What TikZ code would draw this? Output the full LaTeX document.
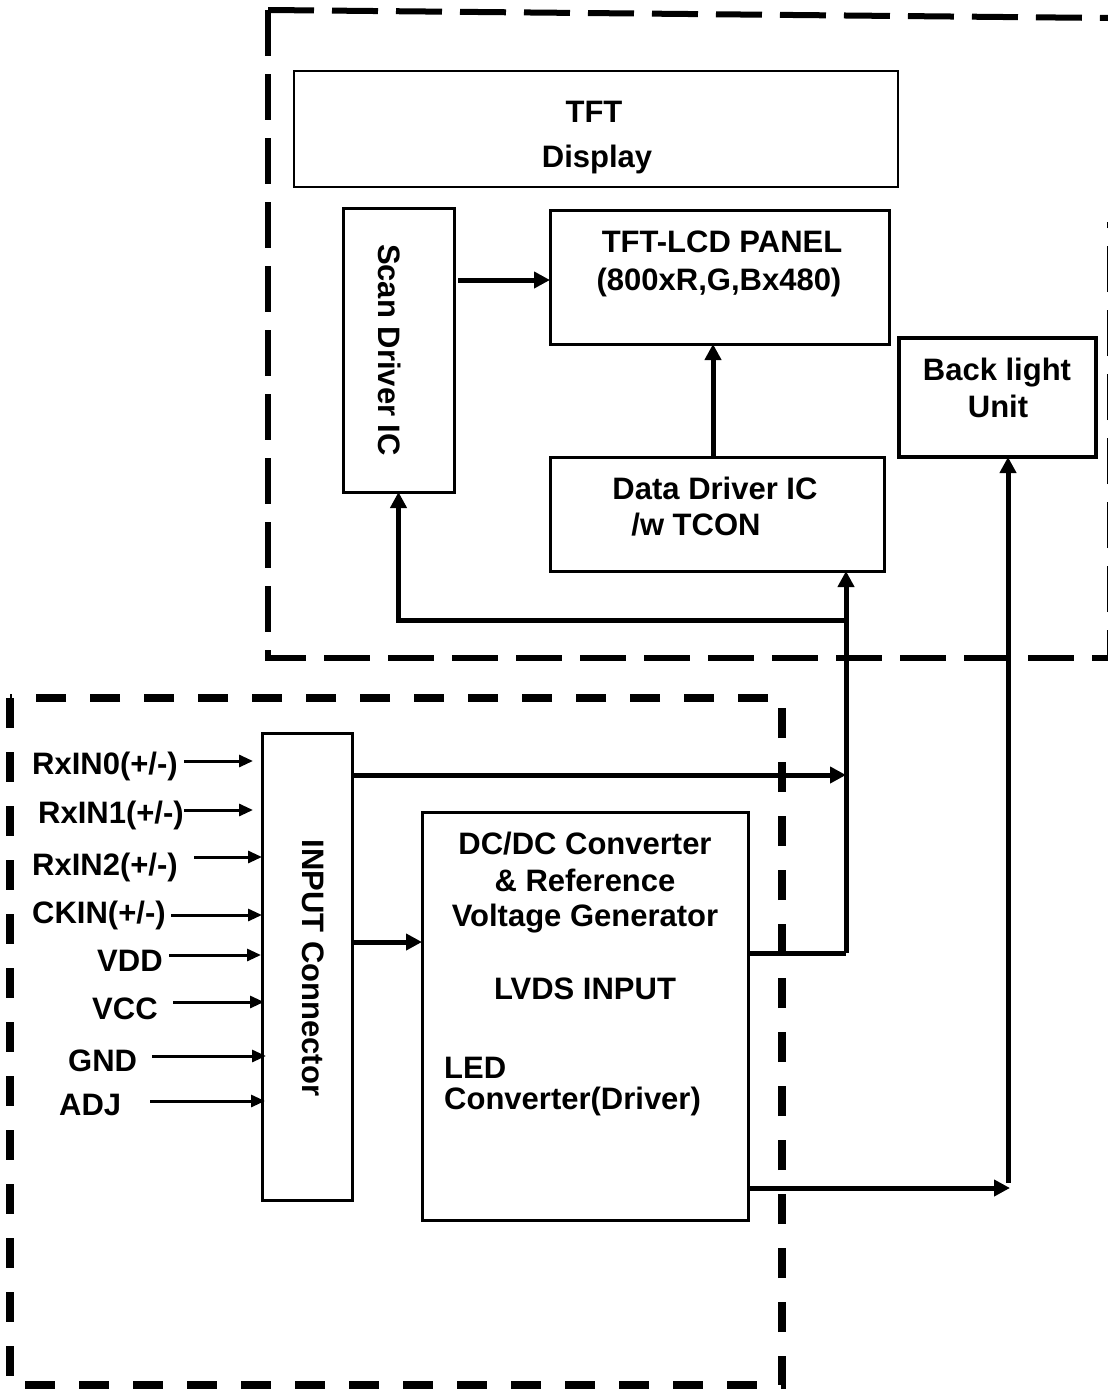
\documentclass[tikz,border=0pt]{standalone}
\usepackage{fontspec}
\setmainfont{Liberation Sans}
\usetikzlibrary{arrows.meta,calc}
\begin{document}
\begin{tikzpicture}[x=1pt,y=-1pt,
  every node/.style={font=\fontsize{31}{37}\selectfont\bfseries},
  blk/.style={draw, line width=3pt, inner sep=0pt, outer sep=0pt},
  lbl/.style={inner sep=0pt, anchor=base},
  lblw/.style={inner sep=0pt, anchor=base west},
  bigarrow/.style={line width=5pt, -{Triangle[length=16pt,width=16pt]}},
  bigline/.style={line width=5pt},
  smallarrow/.style={line width=3pt, -{Triangle[length=14pt,width=12pt]}},
  topdash/.style={line width=6pt, dash pattern=on 46pt off 18pt},
  botdash/.style={line width=8pt, dash pattern=on 30pt off 24pt}]
\useasboundingbox (0,0) rectangle (1108,1392);

% dashed frames
\draw[topdash] (268,10) -- (1108,18);
\draw[topdash] (268,10) -- (268,658) -- (1110,658) -- (1110,222);
\draw[botdash] (10,698) rectangle (782,1385);

% boxes
\node[blk, line width=2.5pt, minimum width=604pt, minimum height=116pt] (disp) at (596,129) {};
\node[blk, minimum width=111pt, minimum height=284pt] (scan) at (398.5,350) {};
\node[blk, minimum width=339pt, minimum height=134pt] (panel) at (719.5,277) {};
\node[blk, line width=3.5pt, minimum width=197pt, minimum height=119pt] (bl) at (997.5,397.5) {};
\node[blk, minimum width=334pt, minimum height=114pt] (data) at (717,514) {};
\node[blk, minimum width=90pt, minimum height=467pt] (inconn) at (307,966.5) {};
\node[blk, minimum width=326pt, minimum height=408pt] (dcdc) at (585,1016) {};

% texts
\node[lbl] (t1) at (594,122) {TFT};
\node[lbl] (t2) at (597,167) {Display};
\node[lbl] (t3) at (722,252) {TFT-LCD PANEL};
\node[lbl] (t4) at (719,290) {(800xR,G,Bx480)};
\node[lbl] (t5) at (997,380) {Back light};
\node[lbl] (t6) at (998,417) {Unit};
\node[lbl] (t7) at (715,499) {Data Driver IC};
\node[lbl] (t8) at (696,535) {/w TCON};
\node[lbl, rotate=-90] (t9) at (378,350) {Scan Driver IC};
\node[lbl, rotate=-90] (t10) at (302,968) {INPUT Connector};
\node[lbl] (t11) at (585,854) {DC/DC Converter};
\node[lbl] (t12) at (585,891) {\&\ Reference};
\node[lbl] (t13) at (585,926) {Voltage Generator};
\node[lbl] (t14) at (585,999) {LVDS INPUT};
\node[lblw] (t15) at (444,1078) {LED};
\node[lblw] (t16) at (444,1109) {Converter(Driver)};

% input labels
\node[lblw] (l0) at (32,774) {RxIN0(+/-)};
\node[lblw] (l1) at (38,823) {RxIN1(+/-)};
\node[lblw] (l2) at (32,875) {RxIN2(+/-)};
\node[lblw] (l3) at (32,923) {CKIN(+/-)};
\node[lblw] (l4) at (97,971) {VDD};
\node[lblw] (l5) at (92,1019) {VCC};
\node[lblw] (l6) at (68,1071) {GND};
\node[lblw] (l7) at (59,1115) {ADJ};

% input arrows
\coordinate (a0) at (184,761);
\coordinate (a1) at (184,810);
\coordinate (a2) at (194,857);
\coordinate (a3) at (171,915);
\coordinate (a4) at (169,955);
\coordinate (a5) at (173,1002);
\coordinate (a6) at (152,1056);
\coordinate (a7) at (150,1101);
\draw[smallarrow, shorten >=9pt] (a0) -- (a0 -| inconn.west);
\draw[smallarrow, shorten >=9pt] (a1) -- (a1 -| inconn.west);
\draw[smallarrow] (a2) -- (a2 -| inconn.west);
\draw[smallarrow] (a3) -- (a3 -| inconn.west);
\draw[smallarrow, shorten >=1pt] (a4) -- (a4 -| inconn.west);
\draw[smallarrow, shorten >=-2pt] (a5) -- (a5 -| inconn.west);
\draw[smallarrow, shorten >=-4pt] (a6) -- (a6 -| inconn.west);
\draw[smallarrow, shorten >=-3pt] (a7) -- (a7 -| inconn.west);

% upper connectors
\coordinate (pw) at ([yshift=-3pt]panel.west);
\draw[bigarrow, shorten <=4pt] (pw -| scan.east) -- (pw);
\coordinate (dn) at ([xshift=-4pt]data.north);
\draw[bigarrow] (dn) -- (dn |- panel.south);

% bus
\coordinate (jR) at (846,953);
\coordinate (jB) at (846,620);
\draw[bigarrow] (jB) -| (scan.south);
\draw[bigarrow] (jR) -- (jR |- data.south);
\draw[bigline] (dcdc.east |- jR) -- (jR);

% from input connector
\coordinate (o1) at (352,775);
\coordinate (o2) at (352,942);
\draw[bigarrow] (o1) -- (o1 -| jR);
\draw[bigarrow] (o2) -- (o2 -| dcdc.west);

% to backlight
\coordinate (jL) at (1008,1188);
\draw[bigarrow] (dcdc.east |- jL) -- ([xshift=2pt]jL);
\draw[bigarrow] ([yshift=5pt]jL) -- (jL |- bl.south);
\end{tikzpicture}
\end{document}
